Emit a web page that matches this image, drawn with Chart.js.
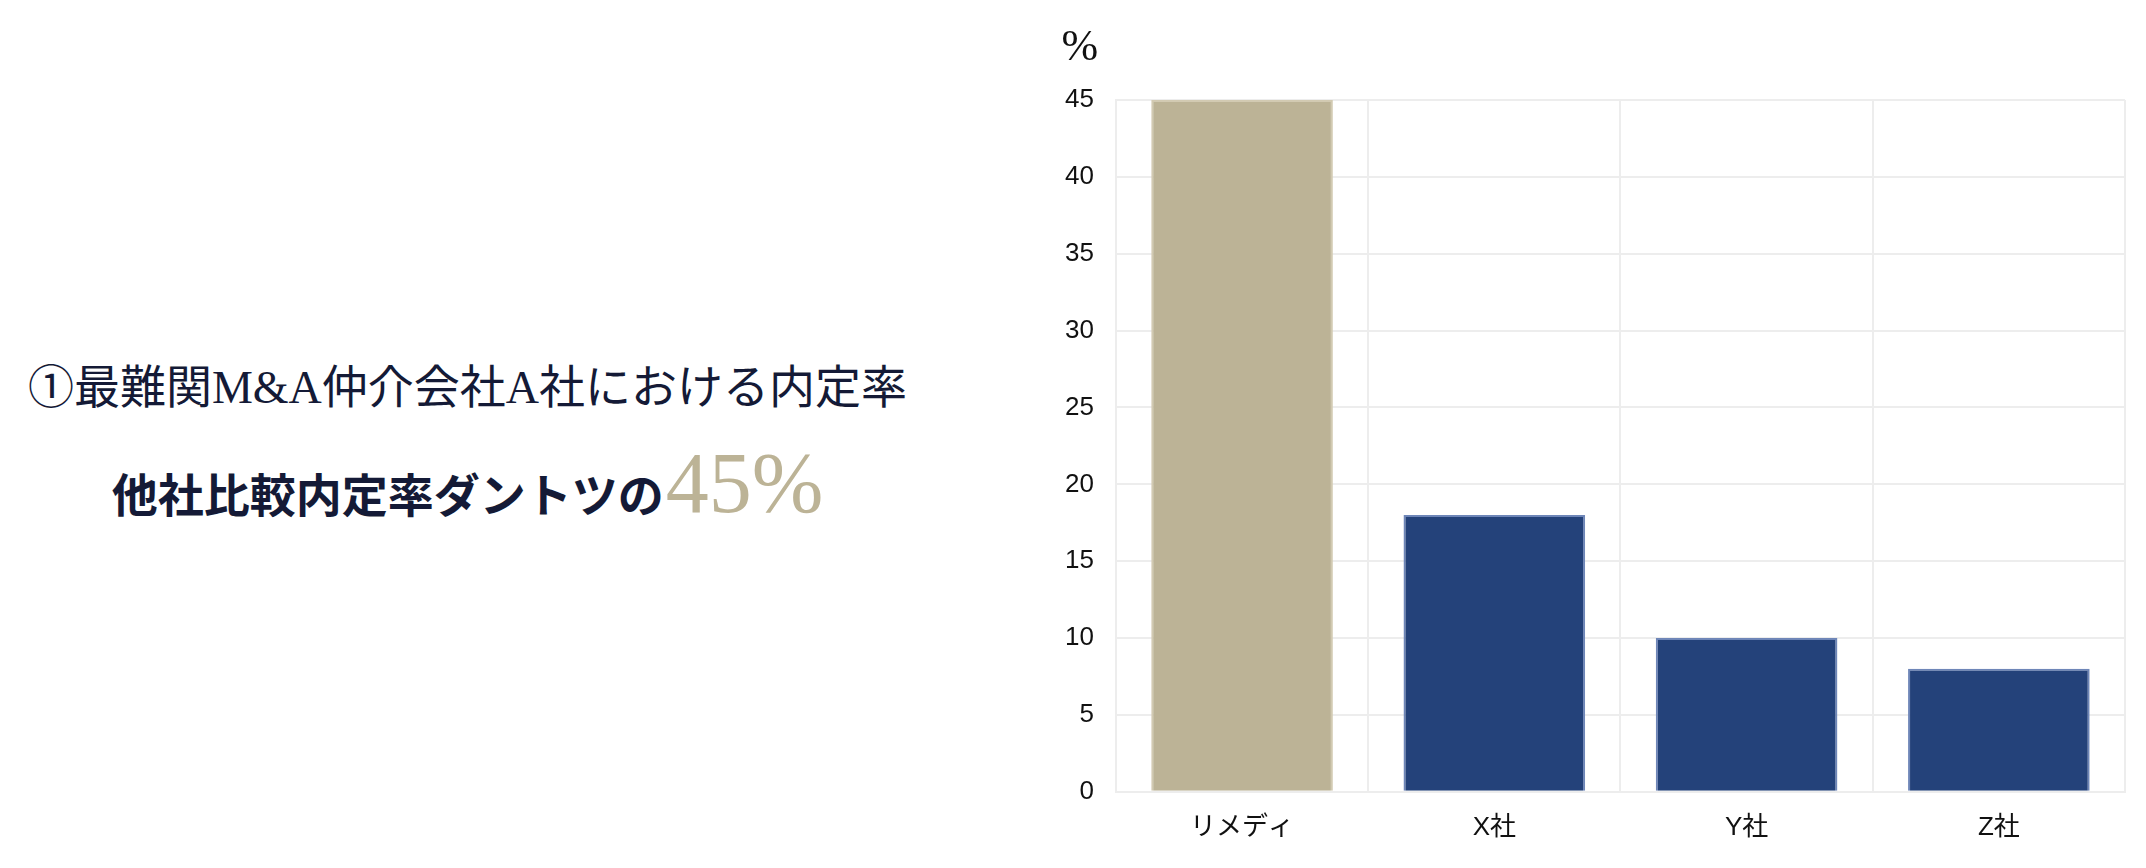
<!DOCTYPE html>
<html lang="ja">
<head>
<meta charset="utf-8">
<script src="https://cdn.jsdelivr.net/npm/chart.js@4.4.0/dist/chart.umd.min.js"></script>
<style>
    html, body { margin: 0; padding: 0; background: #fff; }
    body { width: 2146px; height: 868px; position: relative; overflow: hidden; }
    .lead {
        position: absolute; left: 0; width: 935px; top: 360px;
        text-align: center; color: #141a36;
        font-family: "Liberation Serif", "Noto Sans CJK JP", serif;
    }
    .lead .line1 { font-size: 46px; line-height: 56px; }
    .lead .line2 { font-size: 46px; font-weight: bold; line-height: 90px; margin-top: 22px; }
    .lead .big { font-size: 86px; font-weight: normal; color: #bcb396; margin-left: 2px; }
    #chartBox { position: absolute; left: 1040px; top: 0; width: 1106px; height: 868px; }
</style>
</head>
<body>
<div class="lead">
    <div class="line1">①最難関M&amp;A仲介会社A社における内定率</div>
    <div class="line2">他社比較内定率ダントツの<span class="big">45%</span></div>
</div>
<div id="chartBox"><canvas id="rateChart"></canvas></div>
<script>
// Data
const companies = ['リメディ', 'X社', 'Y社', 'Z社'];
const offerRates = [45, 18, 10, 8];
const barColors = ['#bcb396', '#24427a', '#24427a', '#24427a'];
const barBorders = ['#d2cab2', '#6e86b8', '#6e86b8', '#6e86b8'];

// draws the "%" unit above the y axis
const unitLabel = {
    id: 'unitLabel',
    afterDraw(chart) {
        const c = chart.ctx;
        const y = chart.scales.y;
        c.save();
        c.font = '44px "Liberation Serif", serif';
        c.fillStyle = '#111';
        c.textAlign = 'center';
        c.textBaseline = 'middle';
        c.fillText('%', y.right - 36, 48);
        c.restore();
    }
};

const ctx = document.getElementById('rateChart').getContext('2d');
new Chart(ctx, {
    type: 'bar',
    data: {
        labels: companies,
        datasets: [{
            data: offerRates,
            backgroundColor: barColors,
            borderColor: barBorders,
            borderWidth: 2
        }]
    },
    options: {
        responsive: true,
        maintainAspectRatio: false,
        animation: false,
        layout: { padding: { top: 100, right: 21, bottom: 5, left: 3 } },
        plugins: {
            legend: { display: false },
            tooltip: { enabled: false }
        },
        scales: {
            x: {
                grid: { color: '#ededed', lineWidth: 2, drawTicks: false },
                border: { color: '#ededed', width: 2 },
                ticks: {
                    color: '#111',
                    padding: 20,
                    font: { family: '"Liberation Sans", "Noto Sans CJK JP", sans-serif', size: 26 }
                }
            },
            y: {
                min: 0,
                max: 45,
                grid: { color: '#ededed', lineWidth: 2, drawTicks: false },
                border: { color: '#ededed', width: 2 },
                ticks: {
                    stepSize: 5,
                    color: '#111',
                    padding: 22,
                    font: { family: '"Liberation Sans", sans-serif', size: 26 }
                }
            }
        }
    },
    plugins: [unitLabel]
});
</script>
</body>
</html>
